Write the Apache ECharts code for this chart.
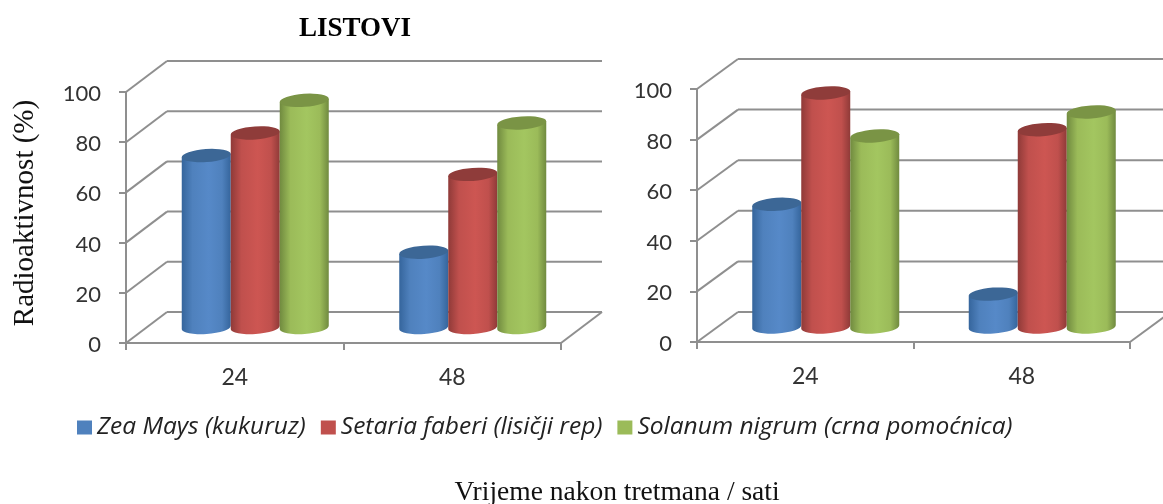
<!DOCTYPE html>
<html>
<head>
<meta charset="utf-8">
<style>
  html, body { margin: 0; padding: 0; background: #fff; }
  #chart { width: 1163px; height: 504px; }
</style>
<script src="https://cdn.jsdelivr.net/npm/echarts@6/dist/echarts.min.js"></script>
</head>
<body>
<div id="chart"></div>
<script>
const categories = ['24', '48']
const wallTicks = [0, 20, 40, 60, 80, 100]
const speciesNames = ['Zea Mays (kukuruz)', 'Setaria faberi (lisičji rep)', 'Solanum nigrum (crna pomoćnica)']

// levo
const zeaLeft = [68.5, 30]
const setariaLeft = [77.5, 61]
const solanumLeft = [90.5, 81.5]
// desno
const zeaRight = [48.5, 13]
const setariaRight = [92.5, 78]
const solanumRight = [75.5, 85]

const palette = [
  { base: '#4f81bd', edge: '#35659c', mid: '#5689c8', top: '#3c6796' },
  { base: '#c0504d', edge: '#8f3a38', mid: '#cd5652', top: '#8f3c3a' },
  { base: '#9bbb59', edge: '#708a3f', mid: '#a3c660', top: '#7a9445' }
]

const GRID_COLOR = '#8f8f8f'
const DEPTH_X = 41
const DEPTH_Y = [31, 30]
const BAR_W = 49
const ELLIPSE_RY = 6.5
const TILT = -4

const chart = echarts.init(document.getElementById('chart'))

function wallRenderer(panel) {
  const depthY = DEPTH_Y[panel]
  return function (params, api) {
    const val = api.value(0)
    const front = api.coord([0, val])
    const band = api.size([1, 0])[0]
    const left = front[0] - band / 2
    const right = left + band * 2
    const style = { stroke: GRID_COLOR, lineWidth: 2, fill: null }
    const children = [
      { type: 'line', shape: { x1: left, y1: front[1], x2: left + DEPTH_X, y2: front[1] - depthY }, style },
      { type: 'line', shape: { x1: left + DEPTH_X, y1: front[1] - depthY, x2: right + DEPTH_X, y2: front[1] - depthY }, style }
    ]
    if (val === 0) {
      children.push({ type: 'line', shape: { x1: right, y1: front[1], x2: right + DEPTH_X, y2: front[1] - depthY }, style })
    }
    return { type: 'group', children }
  }
}

function cylinderRenderer(idx, panel) {
  const colors = palette[idx]
  const depthY = DEPTH_Y[panel]
  return function (params, api) {
    const top = api.coord([api.value(0), api.value(1)])
    const base = api.coord([api.value(0), 0])
    const cx = top[0] + DEPTH_X / 2 + (idx - 1) * BAR_W
    const yTop = top[1] - depthY / 2
    const yBase = base[1] - depthY / 2
    const rx = BAR_W / 2
    const ry = ELLIPSE_RY
    const dy = rx * Math.sin((TILT * Math.PI) / 180)
    const xl = cx - rx
    const xr = cx + rx
    const body = `M${xl} ${yTop - dy} L${xl} ${yBase - dy} A${rx} ${ry} ${TILT} 0 0 ${xr} ${yBase + dy} L${xr} ${yTop + dy} Z`
    const cap = `M${xl} ${yTop - dy} A${rx} ${ry} ${TILT} 0 1 ${xr} ${yTop + dy} A${rx} ${ry} ${TILT} 0 1 ${xl} ${yTop - dy} Z`
    return {
      type: 'group',
      children: [
        {
          type: 'path',
          shape: { pathData: body },
          style: {
            fill: new echarts.graphic.LinearGradient(0, 0, 1, 0, [
              { offset: 0, color: colors.edge },
              { offset: 0.22, color: colors.base },
              { offset: 0.55, color: colors.mid },
              { offset: 0.82, color: colors.base },
              { offset: 1, color: colors.edge }
            ])
          }
        },
        { type: 'path', shape: { pathData: cap }, style: { fill: colors.top } }
      ]
    }
  }
}

function panelSeries(panel, values) {
  const list = [
    {
      name: 'zid' + panel,
      type: 'custom',
      xAxisIndex: panel,
      yAxisIndex: panel,
      z: 1,
      silent: true,
      clip: false,
      encode: { y: 0 },
      data: wallTicks.map(t => [t]),
      renderItem: wallRenderer(panel)
    }
  ]
  values.forEach((vals, i) => {
    list.push({
      name: speciesNames[i],
      type: 'custom',
      xAxisIndex: panel,
      yAxisIndex: panel,
      z: 3 + i,
      clip: false,
      itemStyle: { color: palette[i].base },
      encode: { x: 0, y: 1 },
      data: vals.map((v, c) => [c, v]),
      renderItem: cylinderRenderer(i, panel)
    })
  })
  return list
}

const axisLine = { show: true, lineStyle: { color: GRID_COLOR, width: 2 } }
const labelFont = { fontFamily: 'Lato', color: '#333333' }

function xAxisFor(gridIndex) {
  return {
    type: 'category',
    gridIndex,
    data: categories,
    axisLine,
    axisTick: { show: true, length: 7, alignWithLabel: false, lineStyle: { color: GRID_COLOR, width: 2 } },
    axisLabel: { ...labelFont, fontSize: 23, margin: 23 }
  }
}

function yAxisFor(gridIndex, extra) {
  return {
    type: 'value',
    gridIndex,
    min: 0,
    max: 100,
    interval: 20,
    axisLine,
    axisTick: { show: true, length: 7, lineStyle: { color: GRID_COLOR, width: 2 } },
    splitLine: { show: false },
    axisLabel: { ...labelFont, fontSize: 22, margin: 25, verticalAlign: 'top', lineHeight: 4 },
    ...extra
  }
}

const option = {
  backgroundColor: '#fff',
  animation: false,
  title: [
    {
      text: 'LISTOVI',
      left: 350,
      top: 11,
      textAlign: 'center',
      textStyle: { fontFamily: 'Liberation Serif', fontSize: 27, fontWeight: 'bold', color: '#000' }
    },
    {
      text: 'Vrijeme nakon tretmana / sati',
      left: 612,
      top: 474,
      textAlign: 'center',
      textStyle: { fontFamily: 'Liberation Serif', fontSize: 27.5, fontWeight: 'normal', color: '#111' }
    }
  ],
  legend: {
    left: 72,
    top: 410,
    data: speciesNames,
    selectedMode: false,
    icon: 'rect',
    itemWidth: 15,
    itemHeight: 14,
    itemGap: 15,
    textStyle: { fontFamily: 'Open Sans', fontStyle: 'italic', fontSize: 24.5, color: '#222' }
  },
  grid: [
    { left: 126, top: 92, width: 435, height: 251 },
    { left: 697, top: 89, width: 433, height: 253 }
  ],
  xAxis: [xAxisFor(0), xAxisFor(1)],
  yAxis: [
    yAxisFor(0, {
      name: 'Radioaktivnost (%)',
      nameLocation: 'middle',
      nameGap: 86,
      nameTextStyle: { fontFamily: 'Liberation Serif', fontSize: 29, color: '#111', padding: [0, 0, 0, 9] }
    }),
    yAxisFor(1)
  ],
  series: [
    ...panelSeries(0, [zeaLeft, setariaLeft, solanumLeft]),
    ...panelSeries(1, [zeaRight, setariaRight, solanumRight])
  ]
}

chart.setOption(option)
</script>
</body>
</html>
